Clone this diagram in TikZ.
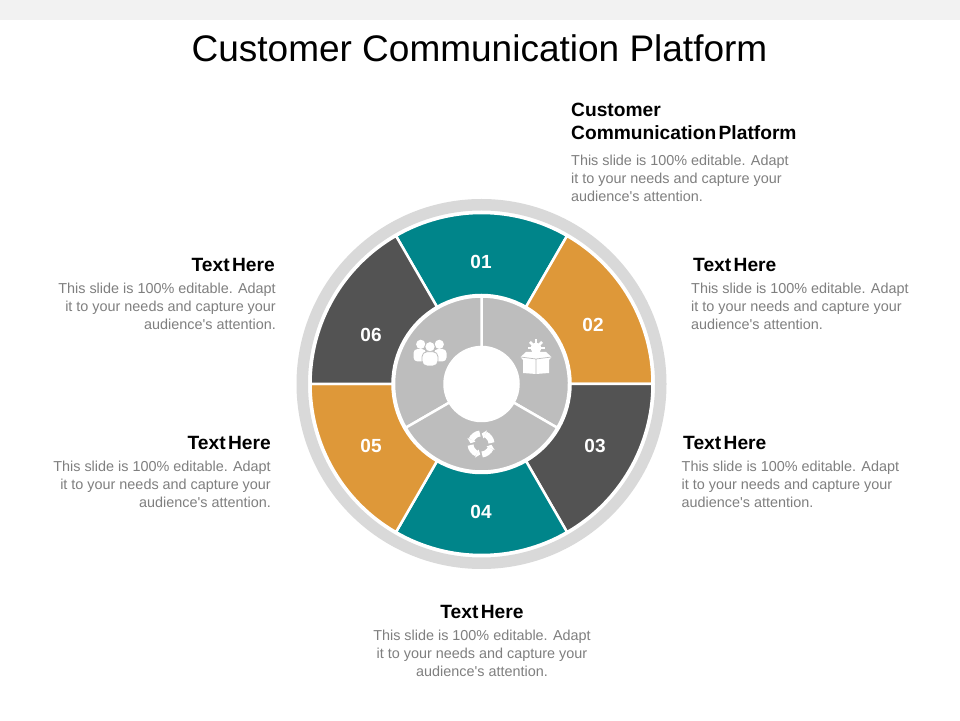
\documentclass[tikz,border=0pt]{standalone}
\usepackage{fontspec}
\setmainfont{Liberation Sans}
\newfontfamily\headfont[WordSpace=0.45]{Liberation Sans}
\usetikzlibrary{positioning}
\definecolor{tealseg}{HTML}{00858A}
\definecolor{orangeseg}{HTML}{DE9839}
\definecolor{darkseg}{HTML}{535353}
\definecolor{innerseg}{HTML}{BDBDBD}
\definecolor{ringgray}{HTML}{D9D9D9}
\definecolor{bodygray}{HTML}{7F7F7F}
\tikzset{head node/.style={font=\headfont\bfseries\fontsize{19.2}{23}\selectfont,inner sep=0pt,text=black},
  body node/.style={font=\fontsize{14.4}{18}\selectfont,inner sep=0pt,text=bodygray},
  num node/.style={font=\bfseries\fontsize{19}{22}\selectfont,text=white,inner sep=0pt},}
\newcommand{\seg}[3]{\fill[#3, draw=white, line width=2.5pt] (#1:89pt) -- (#1:171pt) arc (#1:#2:171pt) -- (#2:89pt) arc (#2:#1:89pt) -- cycle;}
\newcommand{\inseg}[2]{\fill[innerseg, draw=white, line width=2.5pt] (#1:37pt) -- (#1:87.5pt) arc (#1:#2:87.5pt) -- (#2:37pt) arc (#2:#1:37pt) -- cycle;}
\newcommand{\bodytext}{This slide is 100\% editable. Adapt\\it to your needs and capture your\\audience\textquotesingle s attention.}
\begin{document}
\begin{tikzpicture}[x=1pt,y=1pt]
        \useasboundingbox (0,0) rectangle (960,720);
        \fill[white] (0,0) rectangle (960,720);
        \fill[black!5] (0,700) rectangle (960,720);

        \node[font=\fontsize{37}{40}\selectfont,inner sep=0pt] (title) at (479.5,672) {Customer Communication Platform};

        % wheel
        \begin{scope}[shift={(481.5,336)}]
        \fill[ringgray, even odd rule] (0,0) circle (185pt) (0,0) circle (173.5pt);
        \seg{60}{120}{tealseg}
        \seg{0}{60}{orangeseg}
        \seg{-60}{0}{darkseg}
        \seg{-120}{-60}{tealseg}
        \seg{-180}{-120}{orangeseg}
        \seg{120}{180}{darkseg}
        \inseg{-30}{90}
        \inseg{90}{210}
        \inseg{210}{330}
        \end{scope}

        \node[num node] (n1) at (481,458) {01};
        \node[num node] (n2) at (593,395) {02};
        \node[num node] (n3) at (595,274) {03};
        \node[num node] (n4) at (481,208) {04};
        \node[num node] (n5) at (371,274) {05};
        \node[num node] (n6) at (371,385) {06};

        % people icon
        \begin{scope}[shift={(430,367)},white]
        \fill (-9.3,8.7) circle (4.6pt);
        \fill (9.3,8.7) circle (4.6pt);
        \fill[rounded corners=4pt] (-16.5,-8.5) -- (-16.5,4) -- (-4,4) -- (-4,-8.5) -- cycle;
        \fill[rounded corners=4pt] (16.5,-8.5) -- (16.5,4) -- (4,4) -- (4,-8.5) -- cycle;
        \fill[draw=innerseg, line width=0.8pt] (0,6.3) circle (5.2pt);
        \fill[draw=innerseg, line width=0.8pt, rounded corners=5pt] (-8,-13) -- (-8,1.3) -- (8,1.3) -- (8,-13) -- cycle;
        \end{scope}

        % box icon
        \begin{scope}[shift={(536,360)},white]
        \fill (0,12) circle (5.5pt);
        \foreach \a in {0,45,180,135,90} \draw[line width=2.8pt] (0,12) ++(\a:3pt) -- ++(\a:5.5pt);
        \fill (-15.5,3) -- (-10,8) -- (10,8) -- (15.5,3) -- (13,0) -- (13,-13) -- (0,-14) -- (-13,-13) -- (-13,0) -- cycle;
        \draw[innerseg, line width=0.7pt] (-15.5,3) -- (0,1) -- (15.5,3) (0,1) -- (0,-14);
        \end{scope}

        % cycle icon
        \begin{scope}[shift={(481,276)},white]
        \foreach \a in {0,90,180,270} {
          \draw[line width=6pt] (\a+6:10.5pt) arc (\a+6:\a+66:10.5pt);
          \fill (\a+66:15pt) -- (\a+66:6pt) -- (\a+86:10.5pt) -- cycle;
        }
        \end{scope}

        % texts
        \node[head node, align=left, anchor=north west] (h1) at (571,617) {Customer\\Communication Platform};
        \node[body node, align=left] (b1) [below right = 15pt and 0pt of h1.south west] {\bodytext};

        \node[head node, anchor=west] (h2) at (693,455) {Text Here};
        \node[body node, align=left] (b2) [below right = 11pt and -2pt of h2.south west] {\bodytext};

        \node[head node, anchor=west] (h3) at (683,277) {Text Here};
        \node[body node, align=left] (b3) [below right = 11pt and -1.5pt of h3.south west] {\bodytext};

        \node[head node] (h4) at (482,108) {Text Here};
        \node[body node, align=center] (b4) [below = 11pt of h4] {\bodytext};

        \node[head node, anchor=east] (h5) at (271,277) {Text Here};
        \node[body node, align=right] (b5) [below left = 11pt and 0pt of h5.south east] {\bodytext};

        \node[head node, anchor=east] (h6) at (275,455) {Text Here};
        \node[body node, align=right] (b6) [below left = 11pt and -1pt of h6.south east] {\bodytext};
    \end{tikzpicture}
\end{document}
